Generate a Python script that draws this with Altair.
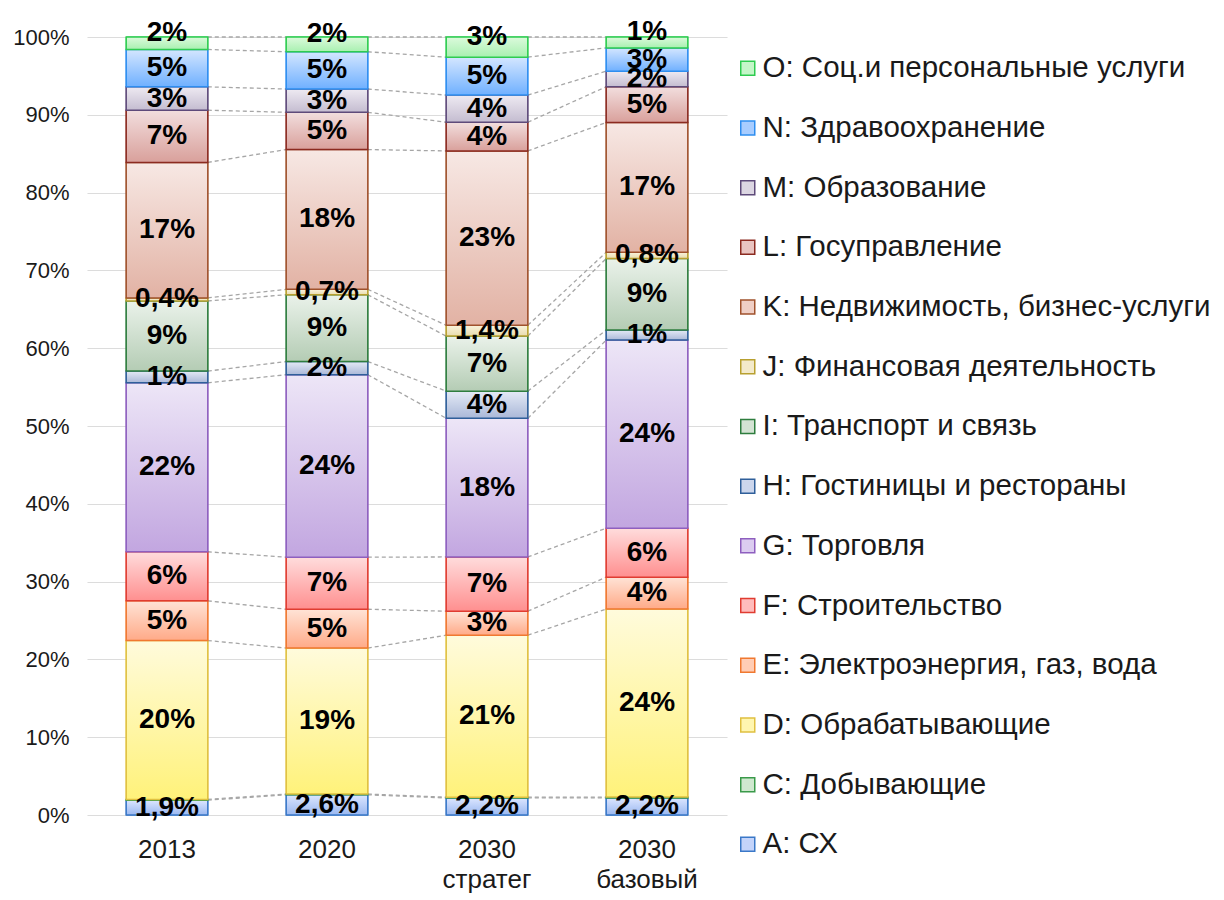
import altair as alt
import pandas as pd

years = ["2013", "2020", "2030 стратег", "2030 базовый"]

series_codes = ["A", "C", "D", "E", "F", "G", "H", "I", "J", "K", "L", "M", "N", "O"]
series_names = [
    "A: СХ",
    "C: Добывающие",
    "D: Обрабатывающие",
    "E: Электроэнергия, газ, вода",
    "F: Строительство",
    "G: Торговля",
    "H: Гостиницы и рестораны",
    "I: Транспорт и связь",
    "J: Финансовая деятельность",
    "K: Недвижимость, бизнес-услуги",
    "L: Госуправление",
    "M: Образование",
    "N: Здравоохранение",
    "O: Соц.и персональные услуги",
]

# shares (%) per year: 2013, 2020, 2030 стратег, 2030 базовый
val_A = [1.9, 2.6, 2.2, 2.2]
val_C = [0.1, 0.1, 0.1, 0.1]
val_D = [20.4, 18.8, 20.9, 24.2]
val_E = [5.1, 5.0, 3.1, 4.1]
val_F = [6.3, 6.7, 7.0, 6.3]
val_G = [21.7, 23.5, 17.9, 24.2]
val_H = [1.5, 1.7, 3.5, 1.3]
val_I = [9.0, 8.6, 7.1, 9.2]
val_J = [0.4, 0.7, 1.4, 0.8]
val_K = [17.4, 18.0, 22.5, 16.7]
val_L = [6.7, 4.8, 3.7, 4.6]
val_M = [3.0, 3.0, 3.5, 2.0]
val_N = [4.8, 4.8, 4.9, 3.0]
val_O = [1.6, 1.9, 2.6, 1.4]

lab_A = ["1,9%", "2,6%", "2,2%", "2,2%"]
lab_C = ["", "", "", ""]
lab_D = ["20%", "19%", "21%", "24%"]
lab_E = ["5%", "5%", "3%", "4%"]
lab_F = ["6%", "7%", "7%", "6%"]
lab_G = ["22%", "24%", "18%", "24%"]
lab_H = ["1%", "2%", "4%", "1%"]
lab_I = ["9%", "9%", "7%", "9%"]
lab_J = ["0,4%", "0,7%", "1,4%", "0,8%"]
lab_K = ["17%", "18%", "23%", "17%"]
lab_L = ["7%", "5%", "4%", "5%"]
lab_M = ["3%", "3%", "4%", "2%"]
lab_N = ["5%", "5%", "5%", "3%"]
lab_O = ["2%", "2%", "3%", "1%"]

values = [val_A, val_C, val_D, val_E, val_F, val_G, val_H, val_I, val_J, val_K, val_L, val_M, val_N, val_O]
labels = [lab_A, lab_C, lab_D, lab_E, lab_F, lab_G, lab_H, lab_I, lab_J, lab_K, lab_L, lab_M, lab_N, lab_O]

# gradient (top, bottom) and border colours
grad_top = ["#dce6ff", "#e0f0e0", "#fffbdc", "#ffe3d6", "#ffdcdc", "#ede6f7", "#e4eaf6",
            "#eaf2ea", "#faf3dc", "#f7e8e4", "#f2dede", "#eeeaf2", "#d4e6ff", "#dcfadc"]
grad_bot = ["#9ab8f0", "#a8d8a8", "#fff27a", "#ffaa88", "#ff8f8f", "#c2a6e0", "#aab8d8",
            "#b4ccb4", "#e8dcae", "#e2b2a4", "#d9a09b", "#c4bcd0", "#6fb0ff", "#a8f0b0"]
borders = ["#3a78c8", "#3a9a4a", "#e0c040", "#f07830", "#e03c31", "#8e5fbf", "#2f5f9a",
           "#2e7d3e", "#b8a030", "#a0522d", "#8b2a20", "#5e4a7a", "#2e8ef0", "#2ecc50"]
legend_fill = ["#c4d4fa", "#cfe8cf", "#fff6b0", "#ffcdb5", "#ffbcbc", "#dccdf0", "#ccd6ec",
               "#d4e3d4", "#f3eacb", "#efcfc6", "#e9c4c1", "#dcd6e2", "#a8cdff", "#c4f6c8"]

rows = []
for si, (code, name) in enumerate(zip(series_codes, series_names)):
    for yi, yr in enumerate(years):
        rows.append({"year": yr, "yidx": yi, "series": name, "code": code, "order": si,
                     "value": values[si][yi], "label": labels[si][yi]})
df = pd.DataFrame(rows)

FONT = "Liberation Sans"

xscale = alt.Scale(domain=years, paddingInner=0.49, paddingOuter=0.245)
yscale = alt.Scale(domain=[0, 1])
x_enc = alt.X("year:N", sort=years, scale=xscale, title=None,
              axis=alt.Axis(labelExpr="split(datum.label, ' ')", labelAngle=0,
                            labelFontSize=26, labelColor="#1a1a1a", labelPadding=21,
                            labelLineHeight=30, ticks=False, domain=False, grid=False,
                            labelBaseline="top"))
y_axis = alt.Axis(format=".0%", values=[i / 10 for i in range(11)], labelFontSize=22,
                  labelColor="#1a1a1a", labelPadding=18, ticks=False, domain=False,
                  grid=True, gridColor="#dcdcdc", gridWidth=1.2)

base = alt.Chart(df).transform_stack(
    stack="value", groupby=["year"], as_=["y0", "y1"], offset="normalize",
    sort=[alt.SortField("order", order="ascending")],
).transform_calculate(mid="(datum.y0 + datum.y1) / 2")

legend_names = series_names[::-1]
legend_fills = legend_fill[::-1]
legend_borders = borders[::-1]
leg = alt.Legend(title=None, orient="none", legendX=646, legendY=16.5, padding=0,
                 labelFontSize=29.5, labelColor="#1a1a1a",
                 labelFont=FONT, symbolType="square", symbolSize=196, symbolStrokeWidth=1.5,
                 rowPadding=28.7, labelOffset=0, labelLimit=700)

legend_layer = base.mark_bar().encode(
    x=x_enc,
    y=alt.Y("y0:Q", scale=yscale, axis=y_axis, title=None),
    y2="y1:Q",
    color=alt.Color("series:N", scale=alt.Scale(domain=legend_names, range=legend_fills), legend=leg),
    stroke=alt.Stroke("series:N", scale=alt.Scale(domain=legend_names, range=legend_borders), legend=leg),
)

connectors = base.transform_window(
    window=[alt.WindowFieldDef(op="lead", field="y1", **{"as": "next_top"}),
            alt.WindowFieldDef(op="lead", field="year", **{"as": "next_year"})],
    groupby=["series"], sort=[alt.SortField("yidx")],
).transform_filter("isValid(datum.next_top)").mark_rule(
    color="#a6a6a6", strokeDash=[4, 3], strokeWidth=1.3, xOffset=40.8, x2Offset=-40.8
).encode(
    x=x_enc, x2="next_year:N",
    y=alt.Y("y1:Q", scale=yscale, axis=y_axis, title=None), y2="next_top:Q",
)

grad_layers = []
for si, name in enumerate(series_names):
    g = alt.Gradient(gradient="linear", x1=0, x2=0, y1=0, y2=1,
                     stops=[alt.GradientStop(color=grad_top[si], offset=0),
                            alt.GradientStop(color=grad_bot[si], offset=1)])
    layer = base.transform_filter(alt.datum.series == name).mark_bar(
        fill=g, stroke=borders[si], strokeWidth=1.5
    ).encode(
        x=x_enc,
        y=alt.Y("y0:Q", scale=yscale, axis=y_axis, title=None),
        y2="y1:Q",
    )
    grad_layers.append(layer)

text_main = base.transform_filter("datum.label != '' && datum.code != 'O'").mark_text(
    fontSize=28, fontWeight="bold", color="#000000", baseline="middle", font=FONT
).encode(
    x=x_enc,
    y=alt.Y("mid:Q", scale=yscale, axis=y_axis, title=None),
    text="label:N",
)

# top-segment labels sit slightly above their thin segment, as in the original
text_top = base.transform_filter("datum.code == 'O'").mark_text(
    fontSize=28, fontWeight="bold", color="#000000", baseline="middle", font=FONT, dy=-10
).encode(
    x=x_enc,
    y=alt.Y("mid:Q", scale=yscale, axis=y_axis, title=None),
    text="label:N",
)

chart = alt.layer(legend_layer, connectors, *grad_layers, text_main, text_top).properties(
    width=640, height=778,
    padding={"left": 4, "top": 10, "right": 0, "bottom": 7},
    background="white",
).configure(font=FONT).configure_view(stroke=None)

chart.save("out.html", embed_options={"renderer": "svg", "actions": False})
